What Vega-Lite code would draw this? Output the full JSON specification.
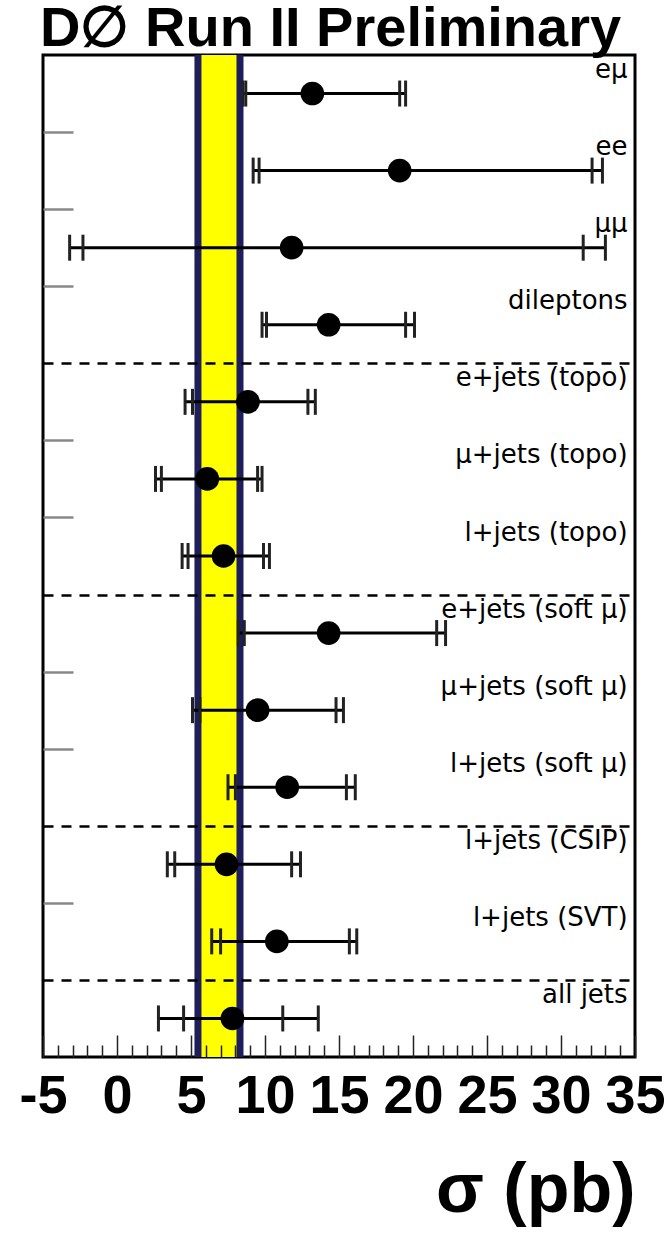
{
  "$schema": "https://vega.github.io/schema/vega-lite/v6.json",
  "autosize": "none",
  "width": 592,
  "height": 1002,
  "padding": {"left": 43, "top": 55, "right": 36, "bottom": 179},
  "background": "white",
  "title": {"text": "D∅ Run II Preliminary", "font": "Liberation Sans", "fontSize": 56, "fontWeight": "bold", "color": "black", "anchor": "start", "frame": "group", "dx": -3, "offset": -50, "baseline": "alphabetic"},
  "config": {"view": {"stroke": "black", "strokeWidth": 3}},
  "data": {"values": [
    {"row": 0, "label": "eμ", "c": 13.2, "lt": 8.5, "ls": 8.7, "hs": 19.1, "ht": 19.5},
    {"row": 1, "label": "ee", "c": 19.1, "lt": 9.2, "ls": 9.6, "hs": 32.1, "ht": 32.8},
    {"row": 2, "label": "μμ", "c": 11.8, "lt": -3.2, "ls": -2.3, "hs": 31.5, "ht": 33.0},
    {"row": 3, "label": "dileptons", "c": 14.3, "lt": 9.8, "ls": 10.1, "hs": 19.5, "ht": 20.1},
    {"row": 4, "label": "e+jets (topo)", "c": 8.85, "lt": 4.6, "ls": 5.1, "hs": 12.9, "ht": 13.4},
    {"row": 5, "label": "μ+jets (topo)", "c": 6.1, "lt": 2.6, "ls": 3.0, "hs": 9.5, "ht": 9.8},
    {"row": 6, "label": "l+jets (topo)", "c": 7.2, "lt": 4.4, "ls": 4.8, "hs": 9.9, "ht": 10.3},
    {"row": 7, "label": "e+jets (soft μ)", "c": 14.3, "lt": 8.2, "ls": 8.6, "hs": 21.6, "ht": 22.2},
    {"row": 8, "label": "μ+jets (soft μ)", "c": 9.5, "lt": 5.1, "ls": 5.6, "hs": 14.8, "ht": 15.3},
    {"row": 9, "label": "l+jets (soft μ)", "c": 11.5, "lt": 7.5, "ls": 8.0, "hs": 15.5, "ht": 16.1},
    {"row": 10, "label": "l+jets (CSIP)", "c": 7.4, "lt": 3.4, "ls": 3.9, "hs": 11.8, "ht": 12.4},
    {"row": 11, "label": "l+jets (SVT)", "c": 10.8, "lt": 6.4, "ls": 7.0, "hs": 15.7, "ht": 16.2},
    {"row": 12, "label": "all jets", "c": 7.8, "lt": 2.8, "ls": 4.5, "hs": 11.2, "ht": 13.6}
  ]},
  "encoding": {
    "x": {"field": "c", "type": "quantitative",
      "scale": {"domain": [-5, 35], "nice": false, "zero": false},
      "axis": {
        "values": [-5,-4,-3,-2,-1,0,1,2,3,4,5,6,7,8,9,10,11,12,13,14,15,16,17,18,19,20,21,22,23,24,25,26,27,28,29,30,31,32,33,34,35],
        "labelExpr": "datum.value % 5 === 0 ? '' + datum.value : ''",
        "tickSize": {"condition": {"test": "datum.value % 5 === 0", "value": -22}, "value": -12},
        "tickColor": "#222", "tickWidth": 1.5,
        "domain": false, "grid": false, "zindex": 1,
        "labelFont": "Liberation Sans", "labelFontSize": 54, "labelFontWeight": "bold", "labelColor": "black",
        "labelPadding": 34, "labelFlush": false, "labelOverlap": false, "labelBound": false,
        "title": "σ (pb)", "titleFont": "Liberation Sans", "titleFontSize": 70, "titleFontWeight": "bold", "titleColor": "black",
        "titleAnchor": "end", "titleBaseline": "alphabetic", "titlePadding": 78
      }
    },
    "y": {"field": "row", "type": "quantitative",
      "scale": {"domain": [-0.5, 12.5], "reverse": true, "nice": false, "zero": false},
      "axis": {
        "values": [0.5,1.5,2.5,3.5,4.5,5.5,6.5,7.5,8.5,9.5,10.5,11.5],
        "labels": false, "domain": false, "title": null, "zindex": 1,
        "grid": true, "gridColor": "black", "gridDash": [10, 8], "gridWidth": 2.5,
        "gridOpacity": {"condition": {"test": "indexof([3.5, 6.5, 9.5, 11.5], datum.value) >= 0", "value": 1}, "value": 0},
        "tickSize": -30, "tickColor": "#888", "tickWidth": 2.5,
        "tickOpacity": {"condition": {"test": "indexof([3.5, 6.5, 9.5, 11.5], datum.value) >= 0", "value": 0}, "value": 1}
      }
    }
  },
  "layer": [
    {
      "data": {"values": [{"lo": 5.47, "hi": 8.31}]},
      "mark": {"type": "rect", "color": "#ffff00"},
      "encoding": {"x": {"field": "lo", "type": "quantitative"}, "x2": {"field": "hi"}, "y": null}
    },
    {
      "data": {"values": [{"lo": 5.47, "hi": 8.31}]},
      "mark": {"type": "rule", "color": "#1e1e5c", "strokeWidth": 7},
      "encoding": {"x": {"field": "lo", "type": "quantitative"}, "y": null}
    },
    {
      "data": {"values": [{"lo": 5.47, "hi": 8.31}]},
      "mark": {"type": "rule", "color": "#1e1e5c", "strokeWidth": 7},
      "encoding": {"x": {"field": "hi", "type": "quantitative"}, "y": null}
    },
    {
      "mark": {"type": "rule", "color": "black", "strokeWidth": 3},
      "encoding": {"x": {"field": "lt", "type": "quantitative"}, "x2": {"field": "ht"}}
    },
    {
      "mark": {"type": "tick", "orient": "vertical", "color": "#222", "size": 26, "thickness": 3, "opacity": 1},
      "encoding": {"x": {"field": "lt", "type": "quantitative"}}
    },
    {
      "mark": {"type": "tick", "orient": "vertical", "color": "#222", "size": 26, "thickness": 3, "opacity": 1},
      "encoding": {"x": {"field": "ls", "type": "quantitative"}}
    },
    {
      "mark": {"type": "tick", "orient": "vertical", "color": "#222", "size": 26, "thickness": 3, "opacity": 1},
      "encoding": {"x": {"field": "hs", "type": "quantitative"}}
    },
    {
      "mark": {"type": "tick", "orient": "vertical", "color": "#222", "size": 26, "thickness": 3, "opacity": 1},
      "encoding": {"x": {"field": "ht", "type": "quantitative"}}
    },
    {
      "mark": {"type": "circle", "color": "black", "size": 560, "opacity": 1},
      "encoding": {}
    },
    {
      "mark": {"type": "text", "align": "right", "baseline": "alphabetic", "dy": -15.5, "font": "DejaVu Sans", "fontSize": 26, "color": "black"},
      "encoding": {"x": {"datum": 34.5}, "text": {"field": "label"}}
    }
  ]
}
